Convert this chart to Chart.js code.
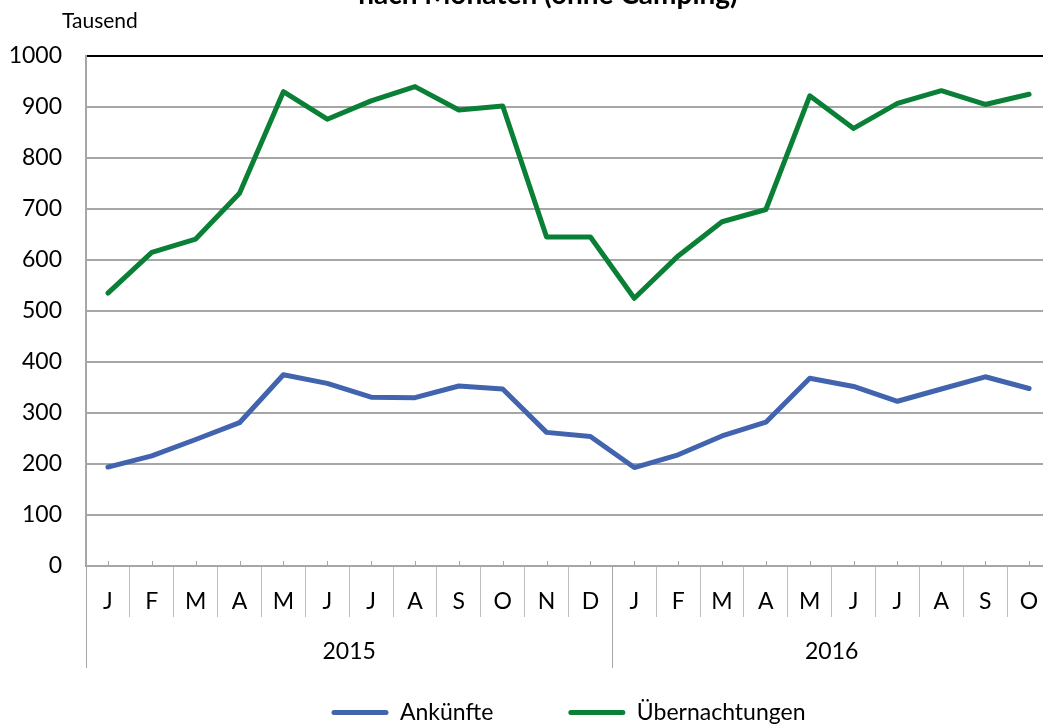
<!DOCTYPE html>
<html lang="de">
<head>
<meta charset="utf-8">
<title>Ankünfte und Übernachtungen nach Monaten</title>
<script src="https://cdn.jsdelivr.net/npm/chart.js@4.4.1/dist/chart.umd.min.js"></script>
<style>
    html, body { margin: 0; padding: 0; overflow: hidden; background: #fff; }
    #wrap { position: relative; width: 1060px; height: 740px; }
</style>
</head>
<body>
<div id="wrap"><canvas id="chart" width="1060" height="740"></canvas></div>
<script>
// ==== DATEN ====
const months = ["J", "F", "M", "A", "M", "J", "J", "A", "S", "O", "N", "D",
                "J", "F", "M", "A", "M", "J", "J", "A", "S", "O"];
const years = ["2015", "2016"];
const monthsPerYear = [12, 10];

// Tausend
const arrivals = [194, 216, 248, 281, 375, 358, 331, 330, 353, 347, 262, 254,
                  193, 218, 255, 282, 368, 352, 323, 347, 371, 348];
const overnights = [535, 615, 641, 731, 930, 876, 912, 940, 894, 902, 645, 645,
                    525, 608, 675, 699, 922, 858, 907, 932, 905, 925];

const yTicks = [0, 100, 200, 300, 400, 500, 600, 700, 800, 900, 1000];

const titleText = "nach Monaten (ohne Camping)";
const unitText = "Tausend";

const FONT = "Lato, 'Open Sans', sans-serif";
const GRID = "#a6a6a6";
const LEGEND_GAP = 75;

// ==== PLUGIN: Titel, Einheit, Jahresgruppen unter der x-Achse ====
const axisDecor = {
    id: "axisDecor",
    afterDraw(chart) {
        const { ctx, chartArea } = chart;
        const x = chart.scales.x;
        const base = chartArea.bottom;
        const catW = x.width / months.length;

        ctx.save();

        // kleine Striche in der Mitte jeder Kategorie
        ctx.strokeStyle = GRID;
        ctx.lineWidth = 1;
        months.forEach((m, i) => {
            const px = Math.round(x.getPixelForValue(i)) + 0.5;
            ctx.beginPath();
            ctx.moveTo(px, base - 5);
            ctx.lineTo(px, base);
            ctx.stroke();
        });

        // Jahre
        ctx.font = "23px " + FONT;
        ctx.fillStyle = "#000";
        ctx.textAlign = "center";
        ctx.textBaseline = "middle";
        let start = 0;
        years.forEach((yr, k) => {
            const n = monthsPerYear[k];
            const left = x.getPixelForValue(start) - catW / 2;
            const right = x.getPixelForValue(start + n - 1) + catW / 2;
            const lx = Math.round(left) + 0.5;
            ctx.beginPath();
            ctx.moveTo(lx, base);
            ctx.lineTo(lx, base + 102);
            ctx.stroke();
            ctx.fillText(yr, (left + right) / 2, base + 86);
            start += n;
        });

        // Titel (oben angeschnitten) und Einheit
        ctx.font = "bold 28px " + FONT;
        ctx.textBaseline = "alphabetic";
        ctx.fillText(titleText, 548, 4);

        ctx.font = "21px " + FONT;
        ctx.textAlign = "left";
        ctx.fillText(unitText, 62, 28);

        ctx.restore();
    },
};

// ==== DIAGRAMM ====
const ctx = document.getElementById("chart").getContext("2d");

new Chart(ctx, {
    type: "line",
    data: {
        labels: months,
        datasets: [
            {
                label: "Ankünfte",
                data: arrivals,
                borderColor: "#4264ae",
                backgroundColor: "#4264ae",
                borderWidth: 5,
                pointRadius: 0,
                tension: 0,
                borderCapStyle: "round",
                borderJoinStyle: "round",
            },
            {
                label: "Übernachtungen",
                data: overnights,
                borderColor: "#0a7f36",
                backgroundColor: "#0a7f36",
                borderWidth: 5,
                pointRadius: 0,
                tension: 0,
                borderCapStyle: "round",
                borderJoinStyle: "round",
            },
        ],
    },
    options: {
        responsive: false,
        animation: false,
        layout: { padding: { left: 0, right: 9, top: 56, bottom: 6 } },
        scales: {
            x: {
                offset: true,
                grid: {
                    offset: true,
                    drawOnChartArea: false,
                    tickLength: 51,
                    color: "#bfbfbf",
                    lineWidth: 1,
                },
                border: { color: GRID, width: 2 },
                ticks: {
                    font: { family: FONT, size: 23 },
                    color: "#000",
                    padding: -29,
                    maxRotation: 0,
                    autoSkip: false,
                },
                // Höhe so, dass die Zeichenfläche bei y = 566 endet
                afterFit: (s) => { s.height = 734 - (23 + LEGEND_GAP + 10) - 566; },
            },
            y: {
                min: 0,
                max: 1000,
                afterBuildTicks: (s) => { s.ticks = yTicks.map((v) => ({ value: v })); },
                grid: {
                    drawTicks: false,
                    lineWidth: 2,
                    color: (c) => (c.tick && c.tick.value === 1000 ? "#000" : GRID),
                },
                border: { color: GRID, width: 2 },
                ticks: {
                    font: { family: FONT, size: 23 },
                    color: "#000",
                    padding: 24,
                    callback: (v) => String(v),
                },
                afterFit: (s) => { s.width = 86; },
            },
        },
        plugins: {
            title: { display: false },
            tooltip: { enabled: false },
            legend: {
                position: "bottom",
                fullSize: false,
                labels: {
                    font: { family: FONT, size: 23 },
                    color: "#000",
                    boxWidth: 57,
                    boxHeight: 5,
                    padding: LEGEND_GAP,
                    generateLabels: (chart) =>
                        Chart.defaults.plugins.legend.labels.generateLabels(chart).map((item) => ({
                            ...item,
                            fillStyle: item.strokeStyle,
                            lineWidth: 0,
                            borderRadius: 2.5,
                        })),
                },
            },
        },
    },
    plugins: [axisDecor],
});
</script>
</body>
</html>
